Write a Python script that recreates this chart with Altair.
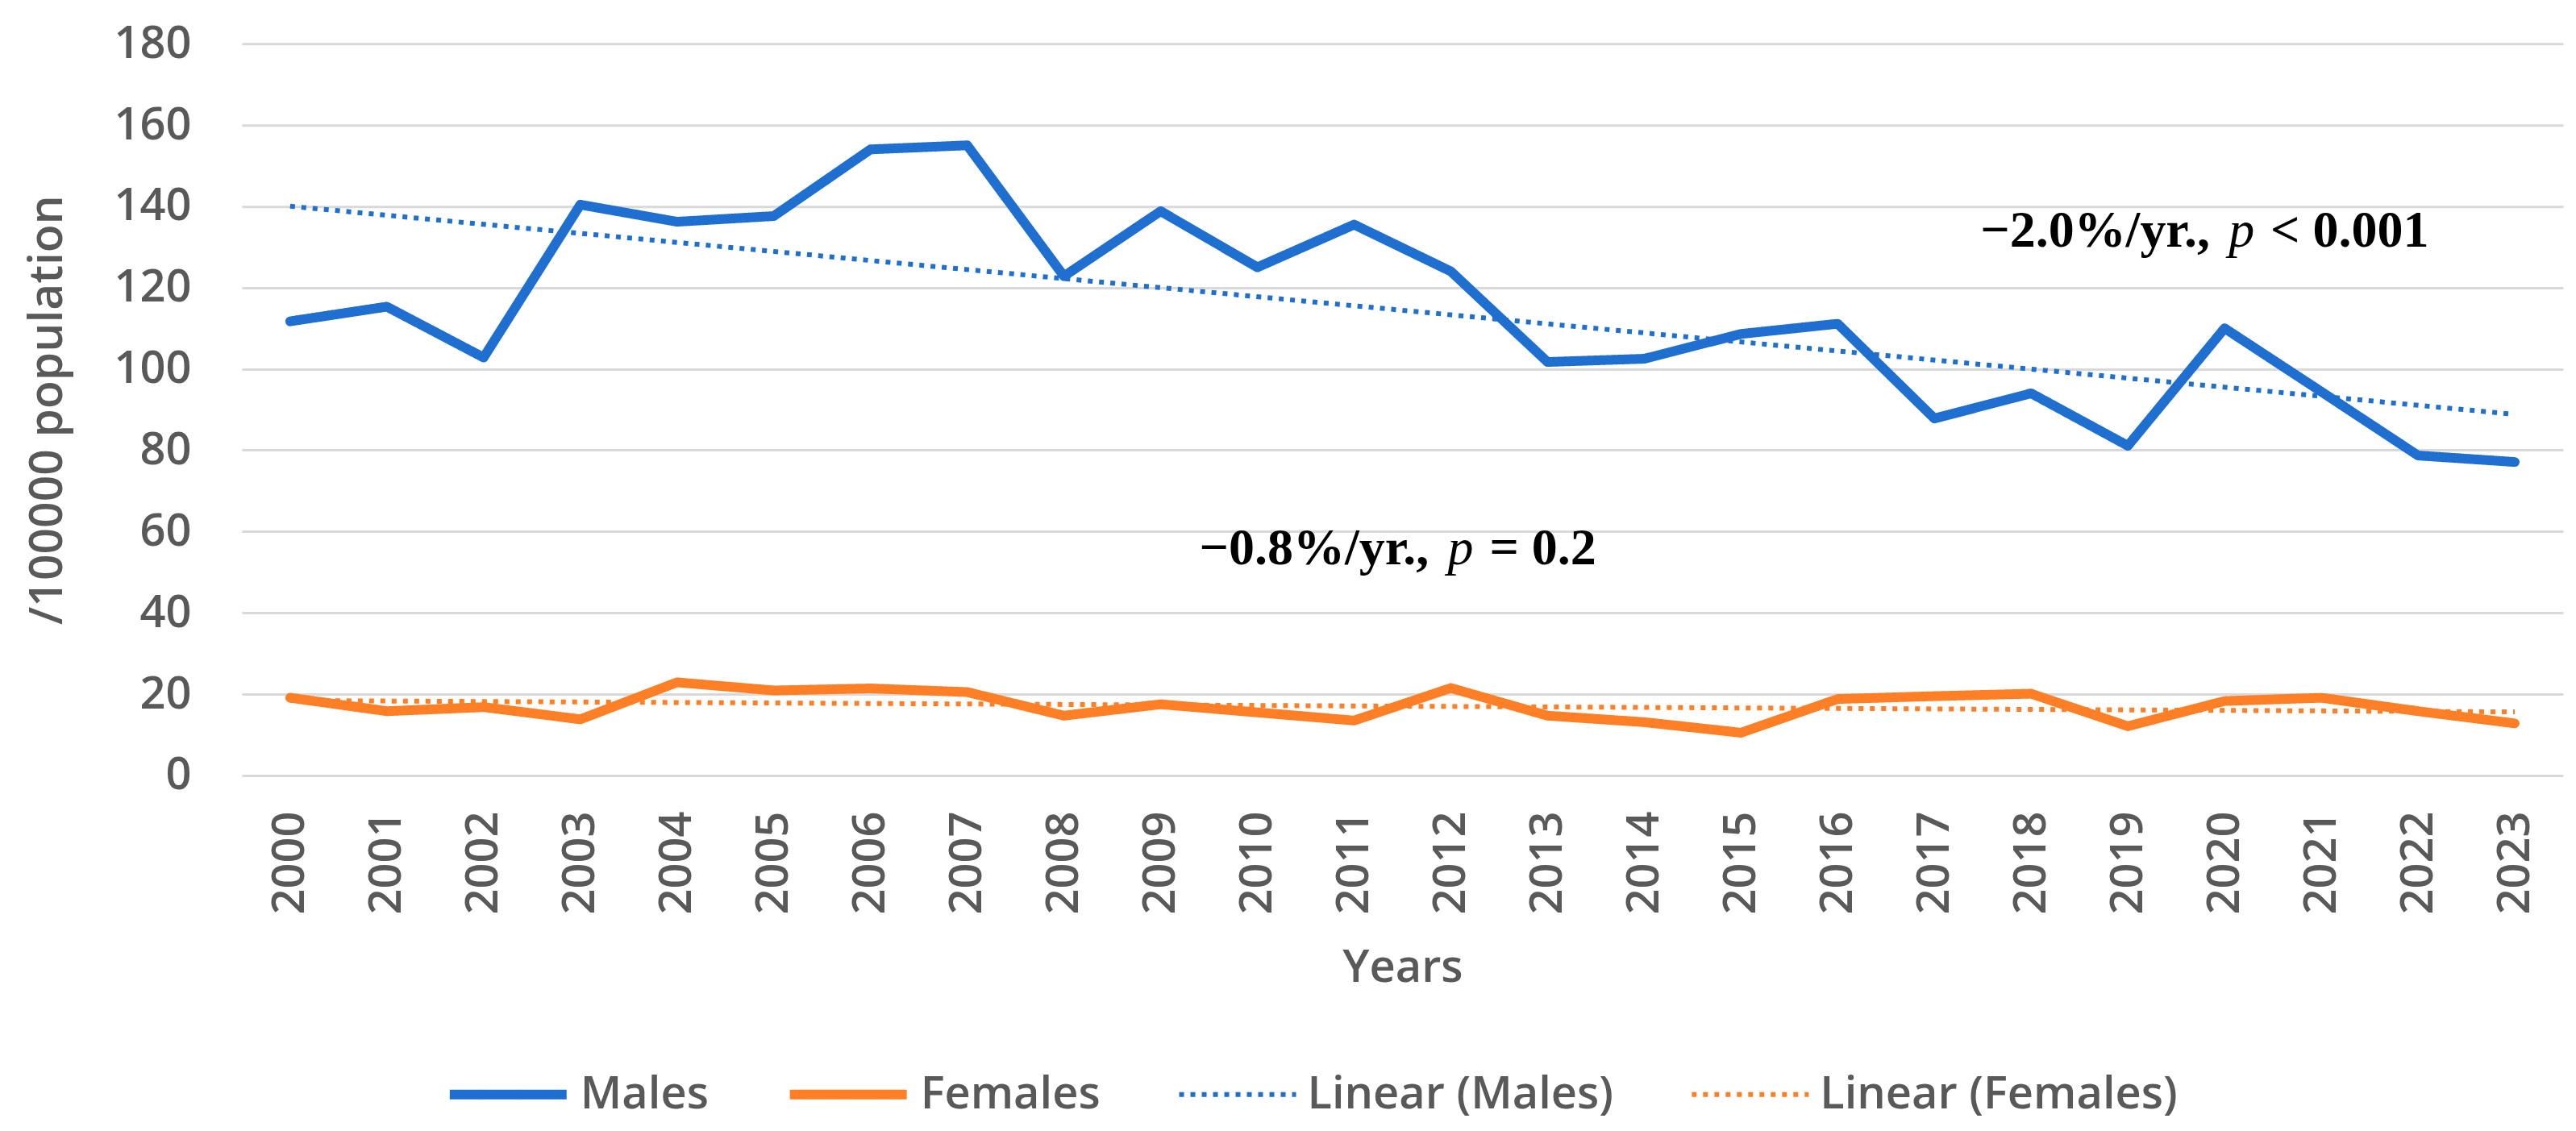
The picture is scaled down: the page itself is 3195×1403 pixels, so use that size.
import altair as alt
import pandas as pd

years = [2000, 2001, 2002, 2003, 2004, 2005, 2006, 2007, 2008, 2009, 2010, 2011,
         2012, 2013, 2014, 2015, 2016, 2017, 2018, 2019, 2020, 2021, 2022, 2023]
males = [111.7, 115.3, 102.8, 140.4, 136.2, 137.6, 154.0, 155.0, 122.8, 138.8, 125.0, 135.5,
         124.0, 101.7, 102.5, 108.6, 111.1, 87.8, 94.0, 81.1, 110.0, 94.4, 78.7, 77.1]
females = [19.1, 15.8, 16.8, 13.8, 22.9, 20.9, 21.4, 20.5, 14.7, 17.5, 15.5, 13.5,
           21.5, 14.7, 13.1, 10.5, 18.8, 19.5, 20.1, 12.1, 18.3, 19.1, 15.8, 12.8]
y_ticks = [0, 20, 40, 60, 80, 100, 120, 140, 160, 180]

series_names = ["Males", "Females", "Linear (Males)", "Linear (Females)"]
series_colors = ["#1E6FD0", "#FF7F27", "#1E6FD0", "#FF7F27"]
series_dash = [[1, 0], [1, 0], [6, 8], [6, 8]]
series_width = [12, 12, 6, 6]

df = pd.DataFrame({
    "year": years + years,
    "value": males + females,
    "sex": ["Males"] * len(years) + ["Females"] * len(years),
})

GRAY = "#595959"
SANS = "Open Sans"
SERIF = "Liberation Serif"

x_enc = alt.X("year:Q",
              scale=alt.Scale(domain=[1999.5, 2023.5], nice=False, zero=False),
              axis=alt.Axis(values=years, format="d", labelAngle=270, grid=False,
                            ticks=False, domain=False, labelPadding=44,
                            labelFont=SANS, labelFontSize=56, labelFontWeight=600,
                            labelColor=GRAY, labelOverlap=False,
                            title="Years", titleFont=SANS, titleFontSize=56,
                            titleFontWeight=600, titleColor=GRAY,
                            titleY=256, titleBaseline="alphabetic"))
y_enc = alt.Y("value:Q",
              scale=alt.Scale(domain=[0, 180], nice=False),
              axis=alt.Axis(values=y_ticks, grid=True, gridColor="#D9D9D9", gridWidth=3,
                            ticks=False, domain=False, labelPadding=63,
                            labelFont=SANS, labelFontSize=56, labelFontWeight=600,
                            labelColor=GRAY,
                            title="/100000 population", titleFont=SANS, titleFontSize=57,
                            titleFontWeight=600, titleColor=GRAY, titleAngle=270,
                            titleX=-240, titleY=454, titleAlign="center",
                            titleBaseline="middle"))

color_enc = alt.Color("series:N", scale=alt.Scale(domain=series_names, range=series_colors),
                      legend=alt.Legend(title=None))
dash_enc = alt.StrokeDash("series:N", scale=alt.Scale(domain=series_names, range=series_dash),
                          legend=alt.Legend(title=None))
width_enc = alt.StrokeWidth("series:N",
                            scale=alt.Scale(type="ordinal", domain=series_names, range=series_width),
                            legend=alt.Legend(title=None))

base = alt.Chart(df)

lines = base.transform_calculate(series="datum.sex").mark_line(
    strokeCap="round", strokeJoin="round"
).encode(x=x_enc, y=y_enc, color=color_enc, strokeDash=dash_enc, strokeWidth=width_enc)

trend = base.transform_regression(
    "year", "value", groupby=["sex"], extent=[2000, 2023]
).transform_calculate(
    series="'Linear (' + datum.sex + ')'"
).mark_line().encode(x=x_enc, y=y_enc, color=color_enc, strokeDash=dash_enc,
                     strokeWidth=width_enc)

ann_male = ["\u22122.0%/yr.,", "p", "< 0.001"]
ann_female = ["\u22120.8%/yr.,", "p", "= 0.2"]


def ann(texts, x0, ybase):
    layers = []
    offsets = [0, 308, 360]
    styles = [("bold", "normal"), ("normal", "italic"), ("bold", "normal")]
    for t, off, (w, s) in zip(texts, offsets, styles):
        layers.append(
            alt.Chart(pd.DataFrame({"t": [t]})).mark_text(
                font=SERIF, fontSize=64, fontWeight=w, fontStyle=s, color="black",
                align="left", baseline="alphabetic"
            ).encode(x=alt.value(x0 + off), y=alt.value(ybase), text="t:N")
        )
    return layers


chart = alt.layer(
    lines, trend, *ann(ann_male, 2157, 252), *ann(ann_female, 1188, 646)
).properties(
    width=2880, height=908,
    autosize=alt.AutoSizeParams(type="none"),
    padding={"left": 292, "top": 46, "right": 8, "bottom": 433},
    background="white",
).configure_view(stroke=None).configure_legend(
    orient="none", legendX=252, legendY=1272, direction="horizontal",
    symbolType="stroke", symbolSize=21025, clipHeight=64,
    labelFont=SANS, labelFontSize=56,
    labelFontWeight=600, labelColor=GRAY, labelOffset=11, columnPadding=94,
    padding=0, labelLimit=1000
)

chart.save("out.html", embed_options={"renderer": "svg", "actions": False})
